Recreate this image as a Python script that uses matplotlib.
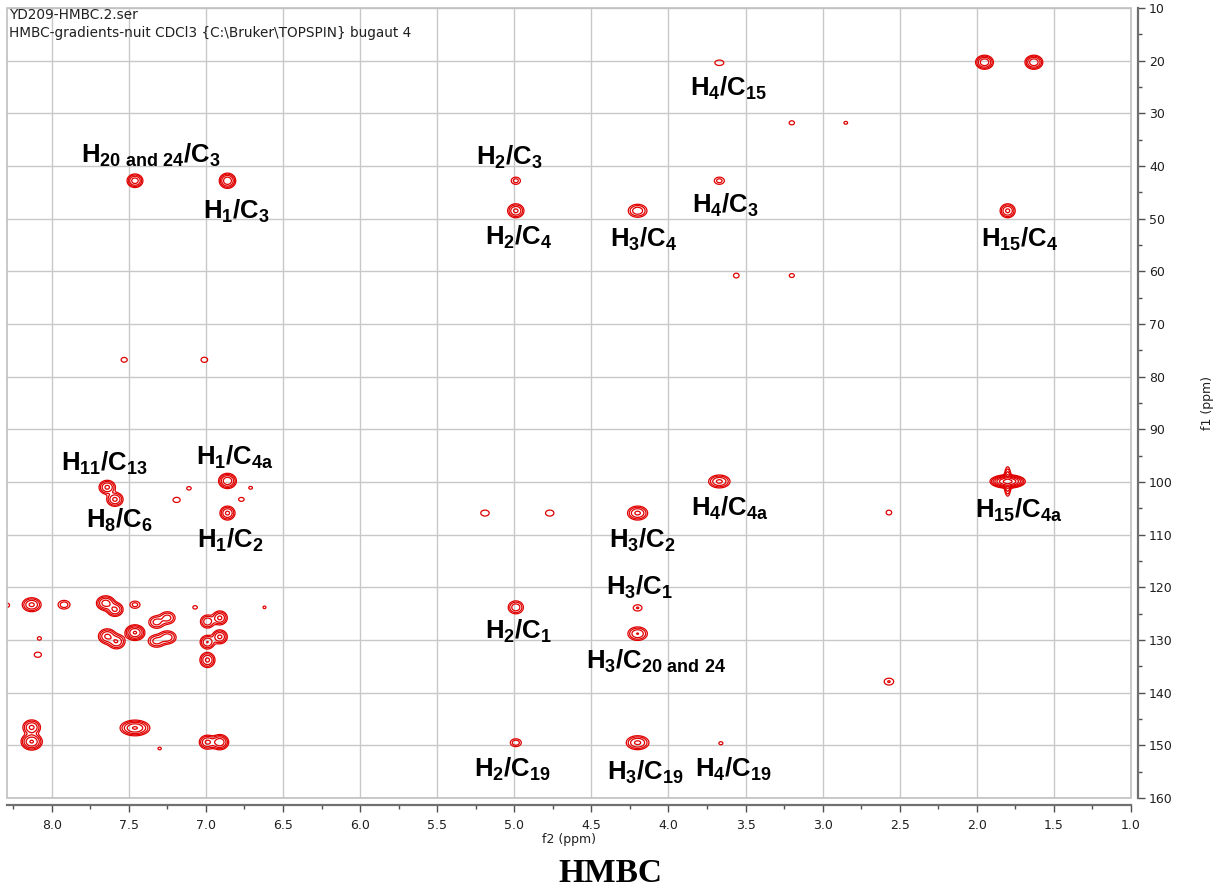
import numpy as np
import matplotlib
matplotlib.use("Agg")
import matplotlib.pyplot as plt
from matplotlib.patches import Rectangle
from matplotlib.ticker import MultipleLocator

# ---------------- data ----------------
# cross peaks: f2 (1H, ppm), f1 (13C, ppm), relative intensity
peak_f2 = [1.95, 1.63, 3.67, 3.20, 2.85, 7.46, 6.86, 4.99, 3.67, 4.99, 4.20, 1.80,
           3.56, 3.20, 7.53, 7.01, 7.64, 7.59, 7.19, 7.11, 6.86, 6.77, 6.71, 6.86,
           5.19, 4.77, 4.20, 3.67, 2.57, 1.80, 1.80, 4.99, 4.20, 4.20, 2.57, 4.99,
           4.20, 3.66, 8.29, 8.13, 7.92, 7.65, 7.59, 7.46, 7.07, 6.62, 7.32, 7.25,
           6.99, 6.91, 7.64, 7.58, 7.46, 7.32, 7.25, 6.99, 6.91, 6.99, 8.08, 8.09,
           8.13, 8.13, 7.46, 7.30, 6.99, 6.91]
peak_f1 = [20.3, 20.3, 20.4, 31.8, 31.8, 42.8, 42.8, 42.8, 42.8, 48.5, 48.5, 48.5,
           60.8, 60.8, 76.8, 76.8, 101.0, 103.3, 103.4, 101.2, 99.8, 103.3, 101.1, 105.9,
           105.9, 105.9, 105.9, 99.9, 105.8, 99.9, 99.9, 123.8, 123.9, 128.8, 137.9, 149.5,
           149.5, 149.6, 123.4, 123.3, 123.3, 123.0, 124.2, 123.3, 123.8, 123.8, 126.6, 125.8,
           126.5, 125.8, 129.3, 130.3, 128.6, 130.2, 129.5, 130.4, 129.4, 133.8, 129.7, 132.8,
           146.6, 149.3, 146.7, 150.6, 149.4, 149.4]
peak_int = [12, 12, 1.7, 1.45, 1.25, 10, 12, 2.5, 2.5, 8, 6, 8,
            1.5, 1.4, 1.5, 1.6, 8, 8, 1.6, 1.3, 12, 1.4, 1.25, 8,
            1.9, 1.9, 8, 8, 1.5, 60, 10, 6, 2.0, 7, 2.0, 3,
            8, 1.3, 1.4, 8, 3, 10, 8, 2.5, 1.3, 1.2, 5, 5,
            6, 8, 8, 7, 14, 5, 6, 7, 8, 8, 1.3, 1.6,
            8, 14, 14, 1.2, 8, 12]
# line widths (sigma, ppm) of the cross peaks
peak_wf2 = [0.026, 0.026, 0.028, 0.020, 0.018, 0.024, 0.024, 0.022, 0.024, 0.026, 0.032, 0.024,
            0.020, 0.020, 0.022, 0.022, 0.026, 0.026, 0.024, 0.020, 0.026, 0.022, 0.018, 0.024,
            0.024, 0.024, 0.032, 0.034, 0.020, 0.040, 0.011, 0.026, 0.024, 0.032, 0.026, 0.024,
            0.036, 0.018, 0.020, 0.030, 0.026, 0.028, 0.026, 0.024, 0.020, 0.016, 0.028, 0.028,
            0.024, 0.024, 0.028, 0.028, 0.028, 0.030, 0.030, 0.024, 0.024, 0.024, 0.018, 0.024,
            0.028, 0.030, 0.042, 0.018, 0.026, 0.026]
peak_wf1 = [0.60, 0.60, 0.50, 0.45, 0.40, 0.60, 0.65, 0.50, 0.50, 0.65, 0.65, 0.65,
            0.50, 0.45, 0.50, 0.50, 0.65, 0.65, 0.50, 0.45, 0.65, 0.45, 0.40, 0.65,
            0.50, 0.50, 0.65, 0.60, 0.50, 0.45, 1.30, 0.65, 0.50, 0.65, 0.55, 0.50,
            0.65, 0.40, 0.50, 0.65, 0.55, 0.65, 0.65, 0.50, 0.45, 0.40, 0.65, 0.65,
            0.65, 0.65, 0.70, 0.70, 0.65, 0.65, 0.65, 0.65, 0.65, 0.70, 0.45, 0.50,
            0.70, 0.70, 0.65, 0.40, 0.65, 0.65]

# assignment labels: (text, f2 ppm, f1 ppm)
label_text = [r"H_{4}/C_{15}", r"H_{20\ and\ 24}/C_{3}", r"H_{2}/C_{3}", r"H_{1}/C_{3}",
              r"H_{2}/C_{4}", r"H_{3}/C_{4}", r"H_{4}/C_{3}", r"H_{15}/C_{4}",
              r"H_{11}/C_{13}", r"H_{1}/C_{4a}", r"H_{8}/C_{6}", r"H_{1}/C_{2}",
              r"H_{4}/C_{4a}", r"H_{3}/C_{2}", r"H_{15}/C_{4a}", r"H_{3}/C_{1}",
              r"H_{2}/C_{1}", r"H_{3}/C_{20\ and\ 24}", r"H_{2}/C_{19}", r"H_{3}/C_{19}",
              r"H_{4}/C_{19}"]
label_f2 = [3.61, 7.36, 5.03, 6.80, 4.97, 4.16, 3.63, 1.72,
            7.66, 6.81, 7.56, 6.84, 3.60, 4.17, 1.73, 4.19,
            4.97, 4.08, 5.01, 4.15, 3.58]
label_f1 = [25.2, 37.9, 38.4, 48.7, 53.6, 54.0, 47.4, 54.0,
            96.5, 95.3, 107.3, 111.1, 105.0, 111.1, 105.4, 120.0,
            128.3, 134.0, 154.5, 155.1, 154.5]

x_ticks = [8.0, 7.5, 7.0, 6.5, 6.0, 5.5, 5.0, 4.5, 4.0, 3.5, 3.0, 2.5, 2.0, 1.5, 1.0]
y_ticks = [10, 20, 30, 40, 50, 60, 70, 80, 90, 100, 110, 120, 130, 140, 150, 160]
header_lines = ["YD209-HMBC.2.ser",
                "HMBC-gradients-nuit CDCl3 {C:\\Bruker\\TOPSPIN} bugaut 4"]

# ---------------- style ----------------
plt.rcParams['font.family'] = ['DejaVu Sans']
plt.rcParams['mathtext.fontset'] = 'custom'
plt.rcParams['mathtext.rm'] = 'Liberation Sans:bold'
plt.rcParams['mathtext.it'] = 'Liberation Sans:bold'
plt.rcParams['mathtext.bf'] = 'Liberation Sans:bold'

W, H = 1221, 893
fig = plt.figure(figsize=(W / 100, H / 100), dpi=100)
left, right, top, bottom = 7, 1131, 8, 798
ax = fig.add_axes([left / W, 1 - bottom / H, (right - left) / W, (bottom - top) / H])

XMAX, XMIN = 8.29, 1.0
ax.set_xlim(XMAX, XMIN)
ax.set_ylim(160, 10)

# spectrum surface from the peak list
gx = np.linspace(XMAX, XMIN, 2300)
gy = np.linspace(10, 160, 1600)
Z = np.zeros((gy.size, gx.size))
for x0, y0, a, sx, sy in zip(peak_f2, peak_f1, peak_int, peak_wf2, peak_wf1):
    px = np.exp(-0.5 * ((gx - x0) / sx) ** 2)
    py = np.exp(-0.5 * ((gy - y0) / sy) ** 2)
    Z += a * np.outer(py, px)
levels = 1.0 * 1.9 ** np.arange(0, 9)
ax.contour(gx, gy, Z, levels=levels, colors='#e00000', linewidths=0.9, zorder=3)

# grid and frame
ax.set_xticks(x_ticks)
ax.set_yticks(y_ticks)
ax.xaxis.set_minor_locator(MultipleLocator(0.25))
ax.yaxis.set_minor_locator(MultipleLocator(5))
ax.grid(True, which='major', color='#c8c8c8', linewidth=1.0, zorder=0)
ax.set_axisbelow(True)
ax.add_patch(Rectangle((0, 0), 1, 1, transform=ax.transAxes, fill=False,
                       edgecolor='#c0c0c0', linewidth=1.2, zorder=4, clip_on=False))

for s in ['top', 'left']:
    ax.spines[s].set_visible(False)
for s in ['bottom', 'right']:
    ax.spines[s].set_position(('outward', 5))
    ax.spines[s].set_color('#707070')
    ax.spines[s].set_linewidth(1.6)

ax.yaxis.tick_right()
ax.yaxis.set_label_position('right')
ax.tick_params(axis='x', which='major', direction='out', length=5, width=1,
               color='#505050', labelsize=9, labelcolor='#202020', pad=5)
ax.tick_params(axis='x', which='minor', direction='out', length=3, width=1, color='#505050')
ax.tick_params(axis='y', which='major', direction='out', length=5, width=1,
               color='#505050', labelsize=9, labelcolor='#202020', pad=3)
ax.tick_params(axis='y', which='minor', direction='out', length=3, width=1, color='#505050')
ax.set_xticklabels([f"{v:.1f}" for v in x_ticks])
ax.set_yticklabels([str(v) for v in y_ticks])
ax.set_xlabel("f2 (ppm)", fontsize=9, color='#202020', labelpad=1)
ax.set_ylabel("f1 (ppm)", fontsize=9, color='#202020', labelpad=20)

# assignment labels
for t, x, y in zip(label_text, label_f2, label_f1):
    ax.text(x, y, "$\\mathrm{" + t + "}$", ha='center', va='center',
            fontsize=18.5, color='black', zorder=5)

# header
fig.text(9 / W, 1 - 15 / H, header_lines[0], ha='left', va='center', fontsize=9.8, color='#202020')
fig.text(9 / W, 1 - 33 / H, header_lines[1], ha='left', va='center', fontsize=9.8, color='#202020')

# title
fig.text(0.5, 1 - 874 / H, "HMBC", ha='center', va='center',
         family='Liberation Serif', weight='bold', fontsize=24, color='black')

fig.savefig("out.png", dpi=100)
